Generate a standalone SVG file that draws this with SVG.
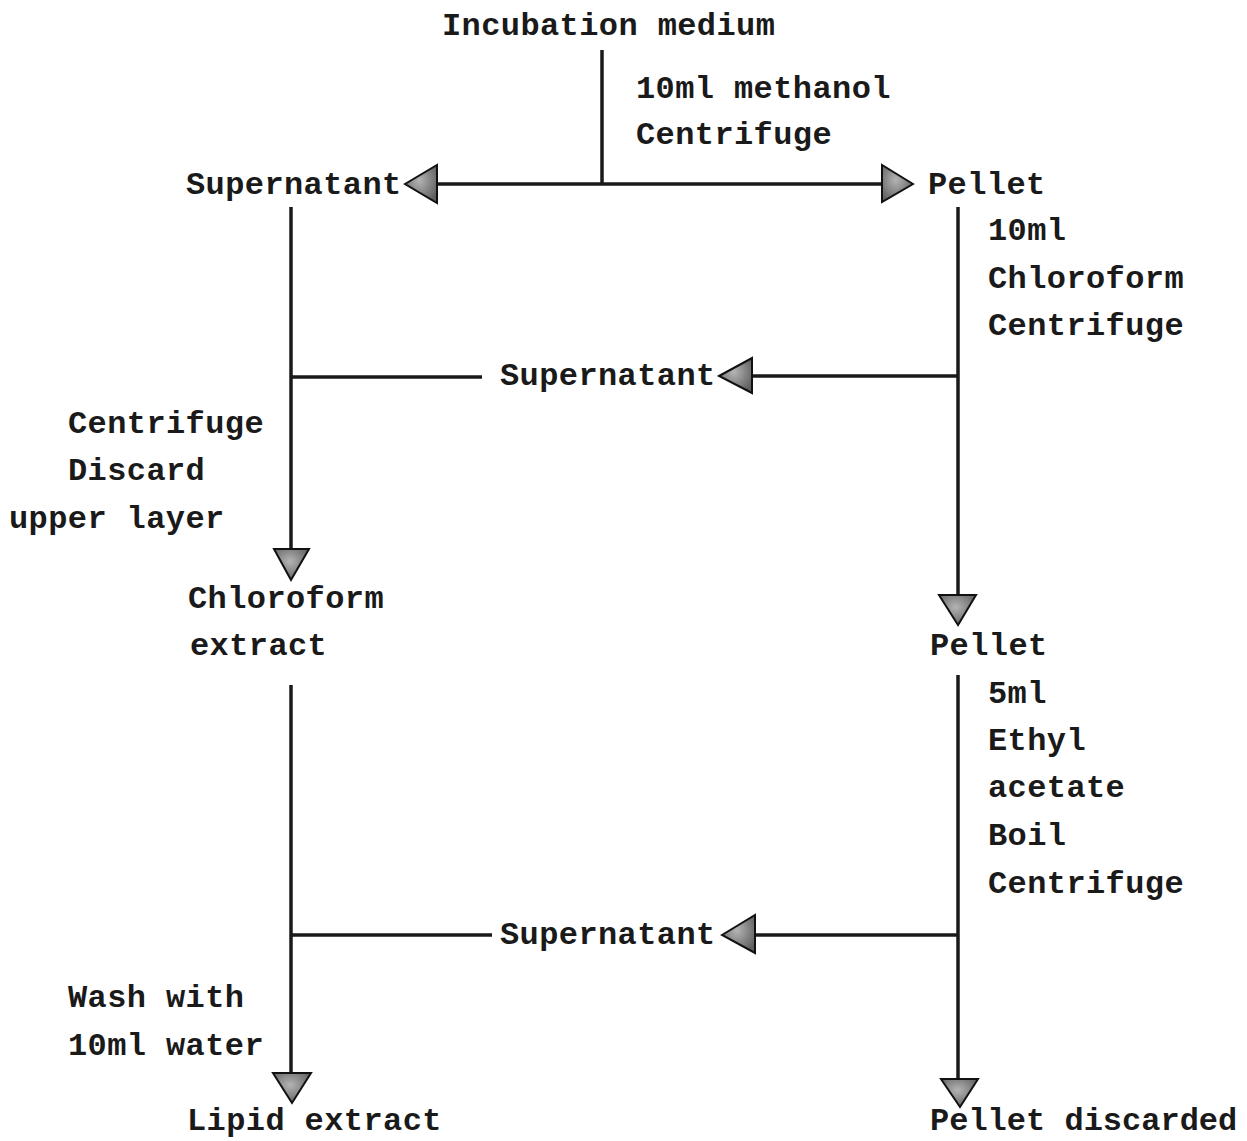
<svg xmlns="http://www.w3.org/2000/svg" width="1247" height="1141" viewBox="0 0 1247 1141">
<style>
  text { font-family: "Liberation Mono", "DejaVu Sans Mono", monospace; font-size: 32px; font-weight: bold; fill: #1a1a1a; letter-spacing: 0.4px; }
  .ln { stroke: #1a1a1a; stroke-width: 3.5; fill: none; }
  .ah { fill: url(#grey); stroke: #111; stroke-width: 2; stroke-linejoin: miter; }
</style>
<defs>
  <radialGradient id="grey" cx="0.45" cy="0.4" r="0.65">
    <stop offset="0" stop-color="#b4b4b4"/>
    <stop offset="1" stop-color="#5e5e5e"/>
  </radialGradient>
</defs>
<rect width="1247" height="1141" fill="#ffffff"/>

<g id="connectors">
  <line class="ln" x1="602" y1="50" x2="602" y2="184"/>
  <line class="ln" x1="430" y1="184" x2="890" y2="184"/>
  <polygon class="ah" points="405,184 437,165 437,203"/>
  <polygon class="ah" points="913,184 882,165 882,202"/>
  <line class="ln" x1="291" y1="207" x2="291" y2="560"/>
  <polygon class="ah" points="291,580 274,549 309,549"/>
  <line class="ln" x1="291" y1="685" x2="291" y2="1083"/>
  <polygon class="ah" points="292,1103 273,1073 311,1073"/>
  <line class="ln" x1="958" y1="207" x2="958" y2="600"/>
  <polygon class="ah" points="958,625 939,595 976,595"/>
  <line class="ln" x1="958" y1="675" x2="958" y2="1086"/>
  <polygon class="ah" points="960,1107 941,1079 978,1079"/>
  <line class="ln" x1="291" y1="377" x2="482" y2="377"/>
  <line class="ln" x1="745" y1="376" x2="958" y2="376"/>
  <polygon class="ah" points="719,376 752,358 752,393"/>
  <line class="ln" x1="291" y1="935" x2="492" y2="935"/>
  <line class="ln" x1="748" y1="935" x2="958" y2="935"/>
  <polygon class="ah" points="722,935 755,915 755,953"/>
</g>

<g id="incubation"><text x="442" y="35">Incubation medium</text></g>
<g id="step1"><text x="636" y="98">10ml methanol</text><text x="636" y="144">Centrifuge</text></g>
<g id="supernatant1"><text x="186" y="194">Supernatant</text></g>
<g id="pellet1"><text x="928" y="194">Pellet</text></g>
<g id="step2"><text x="988" y="240">10ml</text><text x="988" y="288">Chloroform</text><text x="988" y="335">Centrifuge</text></g>
<g id="supernatant2"><text x="500" y="385">Supernatant</text></g>
<g id="step3"><text x="68" y="433">Centrifuge</text><text x="68" y="480">Discard</text><text x="9" y="528">upper layer</text></g>
<g id="chloroform-extract"><text x="188" y="608">Chloroform</text><text x="190" y="655">extract</text></g>
<g id="pellet2"><text x="930" y="655">Pellet</text></g>
<g id="step4"><text x="988" y="703">5ml</text><text x="988" y="750">Ethyl</text><text x="988" y="797">acetate</text><text x="988" y="845">Boil</text><text x="988" y="893">Centrifuge</text></g>
<g id="supernatant3"><text x="500" y="944">Supernatant</text></g>
<g id="step5"><text x="68" y="1007">Wash with</text><text x="68" y="1055">10ml water</text></g>
<g id="lipid-extract"><text x="187" y="1130">Lipid extract</text></g>
<g id="pellet-discarded"><text x="930" y="1130" style="letter-spacing:0px">Pellet discarded</text></g>
</svg>
